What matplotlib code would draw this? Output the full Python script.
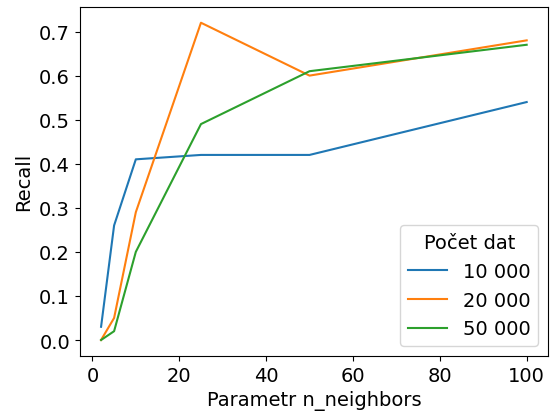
import matplotlib
matplotlib.use("Agg")
import matplotlib.pyplot as plt

n_neighbors = [2, 5, 10, 25, 50, 100]
recall_10k = [0.03, 0.26, 0.41, 0.42, 0.42, 0.54]
recall_20k = [0.00, 0.05, 0.29, 0.72, 0.60, 0.68]
recall_50k = [0.00, 0.02, 0.20, 0.49, 0.61, 0.67]
series_labels = ["10 000", "20 000", "50 000"]

plt.rcParams["font.size"] = 14
fig, ax = plt.subplots(figsize=(5.58, 4.14), dpi=100)
for vals, lab in zip([recall_10k, recall_20k, recall_50k], series_labels):
    ax.plot(n_neighbors, vals, label=lab)
ax.set_xlabel("Parametr n_neighbors")
ax.set_ylabel("Recall")
ax.tick_params(labelsize=14)
ax.legend(title="Počet dat", fontsize=14, title_fontsize=14, loc="lower right")
fig.subplots_adjust(left=0.143, right=0.982, top=0.981, bottom=0.138)
fig.savefig("out.png")
